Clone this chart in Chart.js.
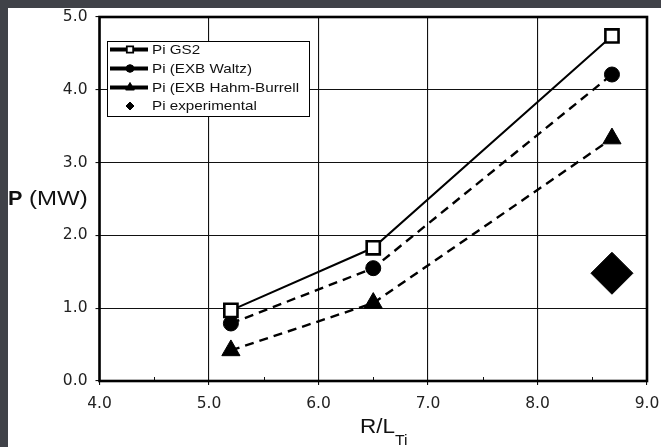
<!DOCTYPE html>
<html>
<head>
<meta charset="utf-8">
<script src="https://cdn.jsdelivr.net/npm/chart.js@4.4.1/dist/chart.umd.min.js"></script>
<style>
  html, body { margin: 0; padding: 0; background: #404248; width: 661px; height: 447px; overflow: hidden; }
  #wrap { position: absolute; left: 8px; top: 8px; width: 653px; height: 439px; background: #ffffff; }
  canvas { display: block; }
</style>
</head>
<body>
<div id="wrap"><canvas id="c" width="653" height="439"></canvas></div>
<script>
// ---- data ----
const xValues = [5.2, 6.5, 8.68];
const gs2 = [0.97, 1.83, 4.74];
const waltz = [0.79, 1.55, 4.21];
const hahmBurrell = [0.42, 1.07, 3.33];
const experimentalX = [8.68];
const experimental = [1.48];
const seriesNames = ['Pi GS2', 'Pi (EXB Waltz)', 'Pi (EXB Hahm-Burrell', 'Pi experimental'];
const xTickValues = [4, 5, 6, 7, 8, 9];
const yTickValues = [0, 1, 2, 3, 4, 5];
const xMinorTicks = [4.5, 5.5, 6.5, 7.5, 8.5];
const yTitle = ['P', ' (MW)'];
const xTitle = ['R/L', 'Ti'];

const toPts = (xs, ys) => xs.map((x, i) => ({ x: x, y: ys[i] }));
const FONT = '"Liberation Sans", Arial, Helvetica, sans-serif';
const TICKFONT = '"DejaVu Sans", "Liberation Sans", sans-serif';
const STRETCH = 1.17;

function stretchedText(ctx, text, x, y, font, sx) {
  ctx.save();
  ctx.font = font;
  ctx.translate(x, y);
  ctx.scale(sx, 1);
  ctx.fillText(text, 0, 0);
  const w = ctx.measureText(text).width * sx;
  ctx.restore();
  return w;
}

const framePlugin = {
  id: 'frame',
  beforeDatasetsDraw(chart) {
    const { ctx, chartArea: a, scales } = chart;
    ctx.save();
    ctx.strokeStyle = '#111';
    ctx.lineWidth = 1;
    xMinorTicks.forEach(v => {
      const px = Math.round(scales.x.getPixelForValue(v)) + 0.5;
      ctx.beginPath();
      ctx.moveTo(px, a.bottom);
      ctx.lineTo(px, a.bottom - 4);
      ctx.stroke();
    });
    ctx.lineWidth = 2.6;
    ctx.strokeStyle = '#000';
    ctx.strokeRect(a.left, a.top, a.right - a.left, a.bottom - a.top);
    ctx.restore();
  },
  afterDraw(chart) {
    const { ctx } = chart;
    ctx.save();
    ctx.fillStyle = '#111';
    ctx.textBaseline = 'alphabetic';
    let w = stretchedText(ctx, yTitle[0], 0, 197, 'bold 20px ' + FONT, 1.08);
    stretchedText(ctx, yTitle[1], w, 197, '20px ' + FONT, 1.2);
    w = stretchedText(ctx, xTitle[0], 352, 425, '21px ' + FONT, 1.07);
    stretchedText(ctx, xTitle[1], 352 + w, 437, '15px ' + FONT, 1.05);
    ctx.restore();
  }
};

const legendPlugin = {
  id: 'boxLegend',
  afterDraw(chart) {
    const { ctx } = chart;
    const bx = 99, by = 33, bw = 202, bh = 75;
    ctx.save();
    ctx.fillStyle = '#fff';
    ctx.fillRect(bx, by, bw, bh);
    ctx.strokeStyle = '#000';
    ctx.lineWidth = 1;
    ctx.strokeRect(bx + 0.5, by + 0.5, bw, bh);
    ctx.beginPath();
    ctx.rect(bx, by, bw, bh);
    ctx.clip();
    const rows = [41.5, 60.5, 79.5, 98];
    const ds = chart.data.datasets;
    const sizes = { rect: 4.5, circle: 3.8, triangle: 5, rectRot: 4 };
    rows.forEach((ry, i) => {
      const d = ds[i];
      if (d.showLine) {
        ctx.strokeStyle = '#000';
        ctx.lineWidth = 4;
        ctx.beginPath();
        ctx.moveTo(102, ry);
        ctx.lineTo(140, ry);
        ctx.stroke();
      }
      ctx.fillStyle = d.pointBackgroundColor;
      ctx.strokeStyle = '#000';
      ctx.lineWidth = d.pointStyle === 'rect' ? 1.8 : 1;
      Chart.helpers.drawPoint(ctx, { pointStyle: d.pointStyle, radius: sizes[d.pointStyle], borderWidth: ctx.lineWidth }, 122, ry);
      ctx.fillStyle = '#111';
      ctx.textBaseline = 'middle';
      stretchedText(ctx, seriesNames[i], 144, ry + 0.5, '13px ' + FONT, STRETCH);
    });
    ctx.restore();
  }
};

const common = { showLine: true, borderColor: '#000', pointBorderColor: '#000', fill: false, tension: 0 };

new Chart(document.getElementById('c'), {
  type: 'scatter',
  data: {
    datasets: [
      Object.assign({}, common, {
        label: seriesNames[0], data: toPts(xValues, gs2),
        borderWidth: 2, pointStyle: 'rect', pointRadius: 9.3, pointBorderWidth: 2.6,
        pointBackgroundColor: '#fff', order: 1
      }),
      Object.assign({}, common, {
        label: seriesNames[1], data: toPts(xValues, waltz),
        borderWidth: 2.4, borderDash: [9, 6], pointStyle: 'circle', pointRadius: 7.5, pointBorderWidth: 1,
        pointBackgroundColor: '#000', order: 2
      }),
      Object.assign({}, common, {
        label: seriesNames[2], data: toPts(xValues, hahmBurrell),
        borderWidth: 2.4, borderDash: [9, 6], pointStyle: 'triangle', pointRadius: 10.5, pointBorderWidth: 1,
        pointBackgroundColor: '#000', order: 3
      }),
      Object.assign({}, common, {
        label: seriesNames[3], data: toPts(experimentalX, experimental), showLine: false,
        pointStyle: 'rectRot', pointRadius: 21, pointBorderWidth: 1,
        pointBackgroundColor: '#000', order: 4
      })
    ]
  },
  options: {
    responsive: false,
    devicePixelRatio: 1,
    animation: false,
    layout: { autoPadding: false, padding: { left: 0, top: 9, right: 14, bottom: 0 } },
    plugins: { legend: { display: false }, tooltip: { enabled: false } },
    elements: { point: { hoverRadius: 0 } },
    scales: {
      x: {
        type: 'linear', min: 4, max: 9,
        afterFit(s) { s.height = 66; s.paddingLeft = 0; s.paddingRight = 0; },
        afterBuildTicks(s) { s.ticks = xTickValues.map(v => ({ value: v })); },
        ticks: { callback: v => v.toFixed(1), color: '#222', font: { family: TICKFONT, size: 15.5 }, padding: 10, maxRotation: 0, autoSkip: false },
        grid: { color: '#111', lineWidth: 1.1, tickLength: 4, tickColor: '#111' },
        border: { display: false }
      },
      y: {
        type: 'linear', min: 0, max: 5,
        afterFit(s) { s.width = 91.5; s.paddingTop = 0; s.paddingBottom = 0; },
        afterBuildTicks(s) { s.ticks = yTickValues.map(v => ({ value: v })); },
        ticks: { callback: v => v.toFixed(1), color: '#222', font: { family: TICKFONT, size: 15.5 }, padding: 8 },
        grid: { color: '#111', lineWidth: 1.1, tickLength: 4, tickColor: '#111' },
        border: { display: false }
      }
    }
  },
  plugins: [framePlugin, legendPlugin]
});
</script>
</body>
</html>
